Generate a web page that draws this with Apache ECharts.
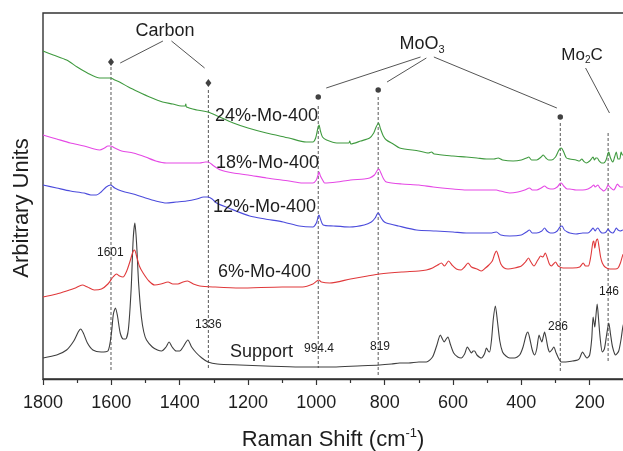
<!DOCTYPE html>
<html>
<head>
<meta charset="utf-8">
<script src="https://cdn.jsdelivr.net/npm/echarts@6/dist/echarts.min.js"></script>
<style>
html,body{margin:0;padding:0;background:#fff;}
#c{width:623px;height:451px;}
</style>
</head>
<body>
<div id="c"></div>
<script>
// ---- Data (Raman shift in cm-1, intensity in arbitrary units) ----
const supportData = [[1800,21],[1760,24],[1731,29],[1710,38],[1697,47],[1690,50],[1682,46],[1670,36],[1654,29],[1630,27],[1610,28],[1600,45],[1594,65],[1588,71],[1582,63],[1574,46],[1565,40],[1558,40],[1550,50],[1542,90],[1536,140],[1531,156],[1526,135],[1520,95],[1512,62],[1505,47],[1497,39],[1480,32],[1465,29],[1453,28],[1440,32],[1431,37],[1422,32],[1410,28],[1400,28],[1390,32],[1376,39],[1365,32],[1351,26],[1335,21],[1317,17],[1290,15],[1224,14],[1150,13],[1049,12],[950,12],[880,13],[815,14],[780,15],[756,16],[730,16],[700,17],[678,17],[660,22],[648,33],[637,44],[631,40],[626,37],[620,40],[615,42],[608,35],[598,26],[586,22],[576,21],[566,25],[558,32],[552,29],[546,26],[541,28],[537,28],[530,24],[517,21],[508,25],[502,31],[497,28],[493,27],[487,40],[482,60],[476,73],[470,58],[463,38],[455,27],[445,23],[434,21],[420,21],[405,24],[395,32],[386,44],[381,47],[375,40],[368,29],[361,24],[355,30],[348,44],[344,40],[340,37],[336,42],[332,47],[327,40],[322,31],[317,27],[311,29],[305,32],[298,26],[290,20],[283,17],[270,17],[250,18],[235,19],[229,21],[221,27],[215,24],[208,21],[200,24],[194,40],[190,62],[187,56],[185,52],[182,62],[178,75],[174,60],[169,40],[163,27],[157,30],[150,45],[144,56],[139,45],[133,32],[124,24],[115,28],[108,40],[103,52],[98,58]];
const mo6Data = [[1800,82],[1760,85],[1731,88],[1705,91],[1685,94],[1670,92],[1650,89],[1629,90],[1610,95],[1595,102],[1585,105],[1576,103],[1566,102],[1555,108],[1545,118],[1537,127],[1532,129],[1527,124],[1518,113],[1507,106],[1490,98],[1473,94],[1455,95],[1434,97],[1420,95],[1405,95],[1390,97],[1377,98],[1360,95],[1341,93],[1300,92],[1224,91],[1100,92],[1040,92],[1010,95],[993,99],[985,97],[961,96],[900,100],[850,103],[815,105],[750,107],[700,108],[678,109],[660,111],[645,114],[634,116],[625,113],[613,118],[603,114],[590,110],[576,109],[566,112],[556,116],[546,112],[530,110],[517,108],[505,111],[495,114],[485,118],[478,125],[473,128],[468,124],[460,115],[450,111],[439,110],[420,111],[400,113],[388,117],[379,121],[372,117],[363,113],[355,117],[348,121],[344,123],[337,122],[330,126],[324,121],[318,115],[312,113],[306,115],[300,117],[292,113],[278,111],[250,111],[229,112],[219,116],[212,113],[204,113],[197,122],[191,136],[188,138],[185,131],[181,138],[177,140],[173,133],[168,122],[163,116],[155,112],[141,110],[125,110],[117,111],[110,116],[103,124],[98,126]];
const mo12Data = [[1800,194],[1760,191],[1720,188],[1680,186],[1660,184],[1644,184],[1630,187],[1615,192],[1602,194],[1590,191],[1570,188],[1536,185],[1500,181],[1470,178],[1439,176],[1410,177],[1380,178],[1350,180],[1330,182],[1317,182],[1305,180],[1292,176],[1250,170],[1195,163],[1150,160],[1097,157],[1050,153],[1010,152],[1000,156],[995,162],[992,164],[988,160],[980,154],[950,153],[902,152],[860,154],[839,157],[828,161],[822,165],[818,166],[812,162],[804,158],[795,156],[760,153],[707,149],[650,148],[600,147],[561,146],[490,146],[473,147],[460,144],[434,143],[400,144],[385,147],[376,149],[368,146],[355,146],[340,148],[332,151],[325,148],[315,146],[307,146],[295,148],[287,152],[281,153],[274,149],[265,147],[258,146],[240,145],[220,146],[205,146],[195,149],[190,151],[184,148],[180,150],[176,151],[170,148],[164,146],[159,146],[152,147],[146,150],[144,150],[139,147],[132,146],[127,148],[122,151],[117,149],[110,148],[103,149],[98,149]];
const mo18Data = [[1800,244],[1760,240],[1720,236],[1680,233],[1650,230],[1634,229],[1620,231],[1610,233],[1602,233],[1590,231],[1570,228],[1536,226],[1500,222],[1470,218],[1439,216],[1400,216],[1370,216],[1341,216],[1325,217],[1317,217],[1300,213],[1280,209],[1243,206],[1200,204],[1146,201],[1080,198],[1040,196],[1010,196],[1000,199],[995,204],[992,207],[988,203],[980,198],[976,196],[940,197],[900,199],[860,200],[844,201],[830,204],[823,208],[817,210],[811,206],[803,200],[795,197],[750,195],[700,194],[658,192],[600,190],[561,189],[500,189],[480,189],[473,189],[462,188],[450,187],[434,186],[410,187],[390,189],[376,191],[368,189],[355,189],[342,191],[332,193],[324,191],[314,190],[307,190],[295,192],[288,195],[283,196],[276,193],[266,190],[258,190],[240,189],[220,189],[205,190],[195,192],[188,194],[184,192],[180,193],[176,194],[170,191],[163,189],[159,188],[152,190],[146,194],[144,194],[138,191],[130,189],[125,191],[119,195],[117,195],[110,192],[103,192],[98,193]];
const mo24Data = [[1800,328],[1770,324],[1731,319],[1700,312],[1670,306],[1634,301],[1615,301],[1602,301],[1590,299],[1576,297],[1550,292],[1520,287],[1488,282],[1450,277],[1420,275],[1395,273],[1384,273],[1382,275],[1380,272],[1350,269],[1317,267],[1290,263],[1243,256],[1200,251],[1146,246],[1080,241],[1030,237],[1010,237],[1002,241],[996,250],[992,254],[988,248],[982,242],[970,239],[940,236],[905,236],[902,238],[899,235],[870,238],[844,241],[832,246],[825,252],[818,256],[812,250],[804,243],[795,239],[775,235],[756,231],[700,228],[672,226],[663,227],[655,225],[600,223],[561,222],[530,221],[502,220],[480,220],[468,221],[455,219],[424,218],[400,219],[385,221],[378,222],[370,219],[355,219],[342,222],[336,224],[328,221],[320,219],[312,219],[300,222],[290,229],[283,231],[276,227],[268,221],[258,220],[240,219],[230,218],[223,220],[218,218],[210,216],[200,218],[193,221],[190,222],[186,219],[182,221],[178,221],[172,218],[165,216],[159,216],[152,219],[147,225],[144,227],[140,222],[135,218],[132,217],[127,222],[122,227],[117,220],[112,220],[108,227],[104,224],[98,224]];

// reference peak lines (positions as drawn in the figure) and their printed labels
const peakShifts   = [1601, 1316, 994.4, 819, 286, 146];
const peakLabels   = ['1601', '1336', '994.4', '819', '286', '146'];
const dashTops     = [312, 289, 273, 282, 256, 246];
const dashBottoms  = [7, 11, 11, 4, 7, 16];
// assignment markers
const diamondPts   = [[1601, 317], [1316, 296]];
const dotPts       = [[994.4, 282], [819, 289], [286, 262]];
const ringPts      = [[146, 259]];
// leader lines (from group label to marker)
const leaders = [
  [[1449, 338], [1574, 316]],
  [[1424, 338], [1327, 311]],
  [[695, 322], [971, 291]],
  [[678, 321], [793, 297]],
  [[656, 322], [296, 271]],
  [[212, 311], [142, 266]]
];
const xTicks = [1800, 1600, 1400, 1200, 1000, 800, 600, 400, 200];

const FONT = "'Liberation Sans', Arial, Helvetica, sans-serif";
const chart = echarts.init(document.getElementById('c'), null, {renderer: 'canvas'});

const series = [];
const curves = [
  {name: 'Support', data: supportData, color: '#3f3f3f'},
  {name: '6%-Mo-400', data: mo6Data, color: '#e0393b'},
  {name: '12%-Mo-400', data: mo12Data, color: '#4b4bdc'},
  {name: '18%-Mo-400', data: mo18Data, color: '#e548e5'},
  {name: '24%-Mo-400', data: mo24Data, color: '#3f9a3f'}
];
curves.forEach(c => series.push({
  type: 'line', name: c.name, data: c.data, showSymbol: false, smooth: 0.25,
  lineStyle: {color: c.color, width: 1.1}, z: 3, silent: true
}));
peakShifts.forEach((p, i) => series.push({
  type: 'line', data: [[p, dashTops[i]], [p, dashBottoms[i]]], showSymbol: false,
  lineStyle: {color: '#444', width: 0.9, type: [3, 2]}, z: 2, silent: true
}));
leaders.forEach(l => series.push({
  type: 'line', data: l, showSymbol: false,
  lineStyle: {color: '#555', width: 1}, z: 2, silent: true
}));
series.push({type: 'scatter', data: diamondPts, symbol: 'diamond', symbolSize: [6, 8],
  itemStyle: {color: '#111'}, z: 4, silent: true});
series.push({type: 'scatter', data: dotPts, symbol: 'circle', symbolSize: 5.5,
  itemStyle: {color: '#111'}, z: 4, silent: true});
series.push({type: 'scatter', data: ringPts, symbol: 'emptyCircle', symbolSize: 5,
  itemStyle: {color: '#fff', borderColor: '#333', borderWidth: 1}, z: 4, silent: true});

function txt(text, x, y, size, align) {
  return {type: 'text', x: x, y: y, z: 10, silent: true,
    style: {text: text, fontSize: size, fontFamily: FONT, fill: '#1e1e1e',
      align: align || 'left', verticalAlign: 'middle'}};
}
const peakLabelPos = [[97, 253], [195, 325], [304, 349], [370, 347], [548, 327], [599, 292]];
const graphics = [
  txt('24%-Mo-400', 215, 116, 18),
  txt('18%-Mo-400', 216, 163, 18),
  txt('12%-Mo-400', 213, 207, 18),
  txt('6%-Mo-400', 218, 272, 18),
  txt('Support', 230, 352, 18),
  txt('Carbon', 165, 31, 18, 'center'),
  {type: 'text', x: 422, y: 44, z: 10, silent: true, style: {
    text: '{m|MoO}{s|3}', align: 'center', verticalAlign: 'middle', fontFamily: FONT, fill: '#1e1e1e',
    rich: {m: {fontSize: 18, fontFamily: FONT, fill: '#1e1e1e', lineHeight: 22, verticalAlign: 'middle'},
           s: {fontSize: 11, fontFamily: FONT, fill: '#1e1e1e', lineHeight: 11, verticalAlign: 'bottom'}}}},
  {type: 'text', x: 582, y: 55, z: 10, silent: true, style: {
    text: '{m|Mo}{s|2}{m|C}', align: 'center', verticalAlign: 'middle', fontFamily: FONT, fill: '#1e1e1e',
    rich: {m: {fontSize: 17, fontFamily: FONT, fill: '#1e1e1e', lineHeight: 21, verticalAlign: 'middle'},
           s: {fontSize: 10, fontFamily: FONT, fill: '#1e1e1e', lineHeight: 10, verticalAlign: 'bottom'}}}},
  {type: 'text', x: 333, y: 440, z: 10, silent: true, style: {
    text: '{a|Raman Shift (cm}{p|-1}{a|)}', align: 'center', verticalAlign: 'middle', fontFamily: FONT, fill: '#1e1e1e',
    rich: {a: {fontSize: 22, fontFamily: FONT, fill: '#1e1e1e', lineHeight: 26, verticalAlign: 'middle'},
           p: {fontSize: 13, fontFamily: FONT, fill: '#1e1e1e', lineHeight: 13, verticalAlign: 'top'}}}},
  {type: 'text', x: 22, y: 208, rotation: Math.PI / 2, z: 10, silent: true, style: {
    text: 'Arbitrary Units', fontSize: 22, fontFamily: FONT, fill: '#1e1e1e', align: 'center', verticalAlign: 'middle'}}
];
peakLabels.forEach((t, i) => graphics.push(txt(t, peakLabelPos[i][0], peakLabelPos[i][1], 12)));

chart.setOption({
  animation: false,
  backgroundColor: '#fff',
  grid: {left: 43, top: 13, width: 615, height: 366, outerBoundsMode: 'none', containLabel: false,
    show: true, borderColor: '#333', borderWidth: 1.4, backgroundColor: 'transparent'},
  xAxis: {
    type: 'value', min: 0, max: 1800, interval: 200, inverse: true,
    axisLine: {show: true, lineStyle: {color: '#333', width: 1.4}},
    axisTick: {show: true, length: 6, lineStyle: {color: '#333', width: 1.2}},
    minorTick: {show: true, splitNumber: 2, length: 4, lineStyle: {color: '#333', width: 1.2}},
    splitLine: {show: false},
    axisLabel: {fontSize: 18, fontFamily: FONT, color: '#1e1e1e', margin: 15,
      formatter: v => (xTicks.indexOf(v) >= 0 ? String(v) : '')}
  },
  yAxis: {
    type: 'value', min: 0, max: 366,
    axisLine: {show: true, lineStyle: {color: '#333', width: 1.4}},
    axisTick: {show: false}, axisLabel: {show: false}, splitLine: {show: false}
  },
  series: series,
  graphic: graphics
});
</script>
</body>
</html>
